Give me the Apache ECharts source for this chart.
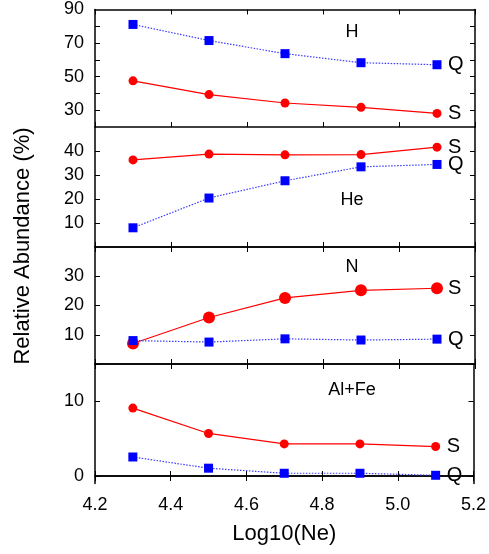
<!DOCTYPE html>
<html>
<head>
<meta charset="utf-8">
<script src="https://cdn.jsdelivr.net/npm/echarts@6/dist/echarts.min.js"></script>
<style>
  html, body { margin: 0; padding: 0; background: #fff; }
  #chart { width: 489px; height: 554px; }
</style>
</head>
<body>
<div id="chart"></div>
<script>
// x values, log10(Ne)
const logNe = [4.3, 4.5, 4.7, 4.9, 5.1];

// relative abundance (%), S = solid red, Q = dotted blue
const hS = [47.5, 39.3, 34.3, 31.7, 28.1];
const hQ = [81.1, 71.5, 63.7, 58.3, 57.1];
const heS = [36.3, 38.7, 38.4, 38.5, 41.6];
const heQ = [8.0, 20.4, 27.6, 33.4, 34.4];
const nS = [7.0, 15.9, 22.6, 25.2, 25.9];
const nQ = [8.0, 7.5, 8.6, 8.2, 8.5];
const alfeS = [9.1, 5.7, 4.3, 4.3, 3.95];
const alfeQ = [2.55, 1.05, 0.37, 0.37, 0.1];

const panelNames = ["H", "He", "N", "Al+Fe"];
const yMin = [20, 0, 0, -1];
const yMax = [90, 50, 40, 15];
const yTicks = [[30, 40, 50, 60, 70, 80], [10, 20, 30, 40], [0, 10, 20, 30], [0, 10]];
const yLabels = [[30, 50, 70, 90], [10, 20, 30, 40], [10, 20, 30], [0, 10]];
const xTicks = [4.2, 4.4, 4.6, 4.8, 5.0, 5.2];

const sData = [hS, heS, nS, alfeS];
const qData = [hQ, heQ, nQ, alfeQ];

// layout
const gridTop = [9.5, 127, 247, 364];
const gridHeight = [117.5, 120, 117, 119.5];
const circleSize = [9, 9, 12, 9];
const titleY = [32, 200, 267, 390];

const font = "Liberation Sans, Arial, sans-serif";
const axisLine = { lineStyle: { color: "#000", width: 1.5 } };
const tickIn = (vals) => ({
    inside: true, length: 5, customValues: vals,
    lineStyle: { color: "#000", width: 1 },
});

const pair = (xs, ys) => xs.map((x, i) => [x, ys[i]]);

const grid = [], xAxis = [], yAxis = [], series = [], graphic = [];

panelNames.forEach((name, i) => {
    grid.push({ left: 95, width: 380, top: gridTop[i], height: gridHeight[i] });
    const last = i === panelNames.length - 1;
    xAxis.push({
        type: "value", gridIndex: i, min: 4.2, max: 5.2, position: "bottom",
        axisLine, splitLine: { show: false }, axisTick: tickIn(xTicks),
        axisLabel: {
            show: last, customValues: xTicks, margin: 13,
            fontFamily: font, fontSize: 18, color: "#000",
            formatter: (v) => v.toFixed(1),
        },
        name: last ? "Log10(Ne)" : "", nameLocation: "middle", nameGap: 39,
        nameTextStyle: { fontFamily: font, fontSize: 22, color: "#000" },
    });
    xAxis.push({
        type: "value", gridIndex: i, min: 4.2, max: 5.2, position: "top",
        axisLine, splitLine: { show: false }, axisTick: tickIn(xTicks),
        axisLabel: { show: false },
    });
    yAxis.push({
        type: "value", gridIndex: i, min: yMin[i], max: yMax[i], position: "left",
        axisLine, splitLine: { show: false }, axisTick: tickIn(yTicks[i]),
        axisLabel: {
            customValues: yLabels[i], margin: 11,
            fontFamily: font, fontSize: 18, color: "#000",
        },
    });
    yAxis.push({
        type: "value", gridIndex: i, min: yMin[i], max: yMax[i], position: "right",
        axisLine, splitLine: { show: false }, axisTick: tickIn(yTicks[i]),
        axisLabel: { show: false },
    });

    const endLabel = (txt) => ({
        show: true, formatter: txt, distance: 11,
        fontFamily: font, fontSize: 20, color: "#000",
    });
    series.push({
        type: "line", name: name + " S", xAxisIndex: 2 * i, yAxisIndex: 2 * i,
        data: pair(logNe, sData[i]),
        symbol: "circle", symbolSize: circleSize[i],
        itemStyle: { color: "#ff0000" },
        lineStyle: { color: "#ff0000", width: 1.2 },
        endLabel: endLabel("S"),
    });
    series.push({
        type: "line", name: name + " Q", xAxisIndex: 2 * i, yAxisIndex: 2 * i,
        data: pair(logNe, qData[i]),
        symbol: "rect", symbolSize: 9,
        itemStyle: { color: "#0000ff" },
        lineStyle: { color: "#3a3aff", width: 1.2, type: [1.5, 1.5] },
        endLabel: endLabel("Q"),
    });

    graphic.push({
        type: "text", x: 352, y: titleY[i],
        style: {
            text: name, font: "18px " + font, fill: "#000",
            textAlign: "center", textVerticalAlign: "middle",
        },
    });
});

graphic.push({
    type: "text", x: 23, y: 246, rotation: Math.PI / 2,
    style: {
        text: "Relative Abundance (%)", font: "22px " + font, fill: "#000",
        textAlign: "center", textVerticalAlign: "middle",
    },
});

const myChart = echarts.init(document.getElementById("chart"));
myChart.setOption({
    animation: false,
    backgroundColor: "#fff",
    grid, xAxis, yAxis, series, graphic,
});
</script>
</body>
</html>
